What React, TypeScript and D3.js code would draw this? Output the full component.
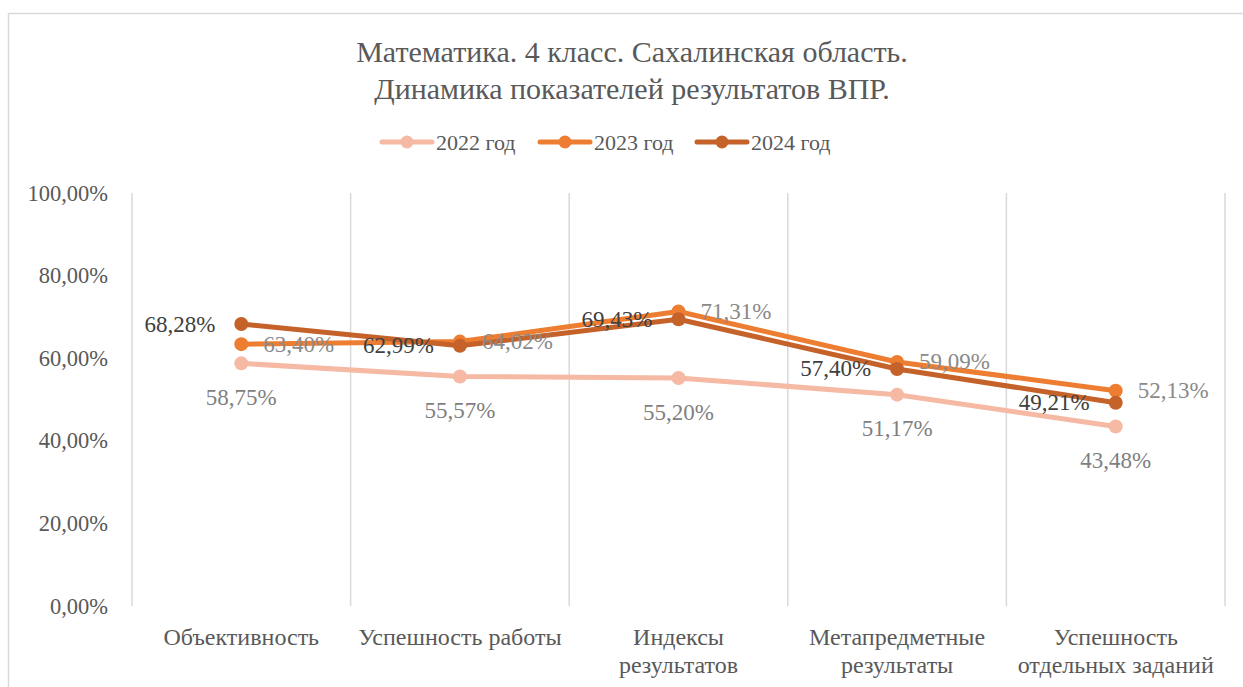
import React from 'react';
import * as d3 from 'd3';

const categories = [
  ['Объективность'],
  ['Успешность работы'],
  ['Индексы', 'результатов'],
  ['Метапредметные', 'результаты'],
  ['Успешность', 'отдельных заданий'],
];
const years = ['2022 год', '2023 год', '2024 год'];
const v2022 = [58.75, 55.57, 55.2, 51.17, 43.48];
const v2023 = [63.4, 64.02, 71.31, 59.09, 52.13];
const v2024 = [68.28, 62.99, 69.43, 57.4, 49.21];
const yTicks = [0, 20, 40, 60, 80, 100];

const W = 1243, H = 687;
const font = '"Liberation Serif", "Times New Roman", serif';

const fmt = (v: number) => v.toFixed(2).replace('.', ',') + '%';

export default function App() {
  const x = d3.scaleBand<number>()
    .domain(d3.range(categories.length))
    .range([132, 1225]);
  const y = d3.scaleLinear().domain([0, 100]).range([606, 193]);
  const cx = (i: number) => x(i)! + x.bandwidth() / 2;

  const line = d3.line<number>()
    .x((d, i) => cx(i))
    .y(d => y(d));

  // label placement like excel: 2022 below, 2023 right, 2024 left
  const series = [
    { name: years[0], data: v2022, color: '#F5B9A4', lab: '#7F7F7F', pos: 'below' },
    { name: years[1], data: v2023, color: '#ED7D31', lab: '#8A8A8A', pos: 'right' },
    { name: years[2], data: v2024, color: '#C4622A', lab: '#404040', pos: 'left' },
  ];

  const legendX = [382, 540, 697];

  return (
    <svg width={W} height={H} style={{ position: 'absolute', left: 0, top: 0, background: '#fff', fontFamily: font }}>
      <rect x={8.5} y={13.5} width={1400} height={900} fill="#fff" stroke="#d9d9d9" strokeWidth={1.5} />

      <text x={632} y={51} textAnchor="middle" dominantBaseline="central" fontSize={30} fill="#595959">
        Математика. 4 класс. Сахалинская область.
      </text>
      <text x={632} y={88} textAnchor="middle" dominantBaseline="central" fontSize={30} fill="#595959">
        Динамика показателей результатов ВПР.
      </text>

      {series.map((s, k) => (
        <g key={s.name}>
          <line x1={legendX[k]} x2={legendX[k] + 50} y1={142} y2={142} stroke={s.color} strokeWidth={5} strokeLinecap="round" />
          <circle cx={legendX[k] + 25} cy={142} r={6.5} fill={s.color} />
          <text x={legendX[k] + 54} y={142} dominantBaseline="central" fontSize={22} fill="#595959">{s.name}</text>
        </g>
      ))}

      {d3.range(categories.length + 1).map(i => {
        const gx = i < categories.length ? x(i)! : x.range()[1];
        return <line key={i} x1={gx} x2={gx} y1={y(100)} y2={y(0)} stroke="#d9d9d9" strokeWidth={1.5} />;
      })}

      {yTicks.map(t => (
        <text key={t} x={108} y={y(t)} textAnchor="end" dominantBaseline="central" fontSize={22.5} fill="#595959">
          {fmt(t)}
        </text>
      ))}

      {categories.map((c, i) => (
        <text key={i} textAnchor="middle" fontSize={24} fill="#595959">
          {c.map((ln, j) => (
            <tspan key={j} x={cx(i)} y={637 + j * 28} dominantBaseline="central">{ln}</tspan>
          ))}
        </text>
      ))}

      {series.map(s => (
        <g key={s.name}>
          <path d={line(s.data)!} fill="none" stroke={s.color} strokeWidth={5} strokeLinejoin="round" strokeLinecap="round" />
          {s.data.map((d, i) => (
            <circle key={i} cx={cx(i)} cy={y(d)} r={7} fill={s.color} />
          ))}
        </g>
      ))}

      {series.map(s => s.data.map((d, i) => {
        let lx = cx(i), ly = y(d), anchor = 'middle';
        if (s.pos === 'below') ly += 34;
        if (s.pos === 'right') { lx += 22; anchor = 'start'; }
        if (s.pos === 'left') { lx -= 26; anchor = 'end'; }
        return (
          <text key={s.name + i} x={lx} y={ly} textAnchor={anchor} dominantBaseline="central" fontSize={23} fill={s.lab}>
            {fmt(d)}
          </text>
        );
      }))}
    </svg>
  );
}
